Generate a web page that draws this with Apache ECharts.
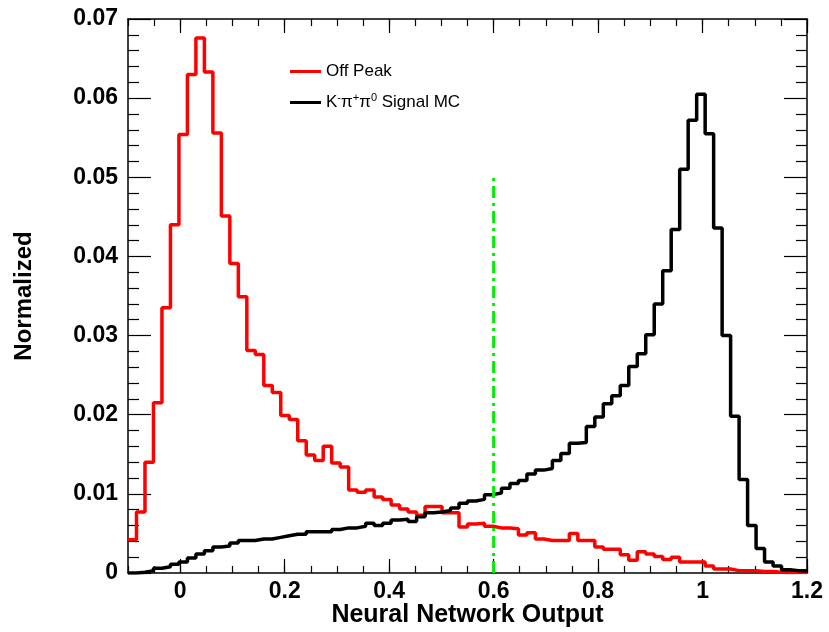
<!DOCTYPE html>
<html>
<head>
<meta charset="utf-8">
<script src="https://cdn.jsdelivr.net/npm/echarts@6/dist/echarts.min.js"></script>
<style>
  html, body { margin: 0; padding: 0; background: #fff; }
  #chart { width: 829px; height: 632px; }
</style>
</head>
<body>
<div id="chart"></div>
<script>
// Histogram binning: 80 bins from -0.1 to 1.2
const binLow = -0.1;
const binWidth = 0.01625;

// Normalized bin contents, Off Peak data
const offPeak = [
  0.0042, 0.0077, 0.0140, 0.0215, 0.0335, 0.0440, 0.0554, 0.0630, 0.0676, 0.0633,
  0.0556, 0.0451, 0.0391, 0.0349, 0.0281, 0.0276, 0.0237, 0.0228, 0.0199, 0.0194,
  0.0167, 0.0149, 0.0142, 0.0160, 0.0139, 0.0134, 0.0105, 0.0102, 0.0105, 0.0096,
  0.0093, 0.0086, 0.0081, 0.0077, 0.0073, 0.0084, 0.0084, 0.0076, 0.0076, 0.0058,
  0.0062, 0.0063, 0.0059, 0.0057, 0.0057, 0.0056, 0.0048, 0.0051, 0.0043, 0.0041,
  0.0041, 0.0041, 0.0050, 0.0041, 0.0041, 0.0033, 0.0030, 0.0030, 0.0023, 0.0016,
  0.0027, 0.0024, 0.0021, 0.0017, 0.0020, 0.0014, 0.0014, 0.0014, 0.0009, 0.0005,
  0.0005, 0.0003, 0.0003, 0.0003, 0.0002, 0.0002, 0.0001, 0.0001, 0.0001, 0.0001
];

// Normalized bin contents, K- pi+ pi0 signal Monte Carlo
const signalMC = [
  0.0000, 0.0001, 0.0003, 0.0006, 0.0008, 0.0011, 0.0014, 0.0019, 0.0024, 0.0028,
  0.0033, 0.0034, 0.0038, 0.0041, 0.0041, 0.0043, 0.0043, 0.0045, 0.0047, 0.0049,
  0.0049, 0.0052, 0.0052, 0.0052, 0.0055, 0.0057, 0.0057, 0.0059, 0.0063, 0.0060,
  0.0063, 0.0067, 0.0068, 0.0065, 0.0071, 0.0076, 0.0077, 0.0079, 0.0082, 0.0088,
  0.0091, 0.0093, 0.0099, 0.0101, 0.0107, 0.0113, 0.0117, 0.0125, 0.0130, 0.0132,
  0.0142, 0.0151, 0.0164, 0.0165, 0.0185, 0.0197, 0.0214, 0.0224, 0.0237, 0.0261,
  0.0277, 0.0301, 0.0340, 0.0382, 0.0434, 0.0510, 0.0572, 0.0605, 0.0555, 0.0436,
  0.0300, 0.0198, 0.0118, 0.0060, 0.0031, 0.0014, 0.0009, 0.0004, 0.0003, 0.0003
];

// Selection cut drawn as a vertical line
const cutValue = 0.6;
const cutTop = 0.05;

// Axis ticks
const xMajorTicks = [0, 0.2, 0.4, 0.6, 0.8, 1.0, 1.2];
const xMin = -0.1, xMax = 1.2;
const yMin = 0, yMax = 0.07, yStep = 0.01;

const seriesNames = ['Off Peak', 'Signal'];

function toSteps(values) {
  const pts = values.map((v, i) => [binLow + i * binWidth, v]);
  pts.push([binLow + values.length * binWidth, values[values.length - 1]]);
  return pts;
}

const font = '"Liberation Sans", Arial, Helvetica, sans-serif';
const axisColor = '#000';

function majorX(position, showLabels) {
  return {
    type: 'value', position: position, min: xMin, max: xMax,
    axisLine: { show: true, onZero: false, lineStyle: { color: axisColor, width: 1.5 } },
    axisTick: { show: true, inside: true, length: 14, customValues: xMajorTicks,
      lineStyle: { color: axisColor, width: 1.2 } },
    axisLabel: { show: showLabels, customValues: xMajorTicks, margin: 7,
      fontFamily: font, fontWeight: 'bold', fontSize: 23, color: '#000' },
    splitLine: { show: false },
    name: showLabels ? 'Neural Network Output' : '',
    nameLocation: 'middle', nameGap: 30, nameMoveOverlap: false,
    nameTextStyle: { fontFamily: font, fontWeight: 'bold', fontSize: 25, color: '#000' }
  };
}
function minorX(position) {
  return {
    type: 'value', position: position, min: xMin, max: xMax, interval: 0.05,
    axisLine: { show: false, onZero: false },
    axisTick: { show: true, inside: true, length: 7, lineStyle: { color: axisColor, width: 1.2 } },
    axisLabel: { show: false }, splitLine: { show: false }
  };
}
function yAxisDef(position, showLabels) {
  return {
    type: 'value', position: position, min: yMin, max: yMax, interval: yStep,
    axisLine: { show: true, onZero: false, lineStyle: { color: axisColor, width: 1.5 } },
    axisTick: { show: true, inside: true, length: 23, lineStyle: { color: axisColor, width: 1.2 } },
    minorTick: { show: true, splitNumber: 5, length: 11, lineStyle: { color: axisColor, width: 1.2 } },
    axisLabel: { show: showLabels, margin: 10, fontFamily: font, fontWeight: 'bold', fontSize: 23, color: '#000' },
    splitLine: { show: false }, minorSplitLine: { show: false },
    name: showLabels ? 'Normalized' : '',
    nameLocation: 'middle', nameRotate: 90, nameGap: 92, nameMoveOverlap: false,
    nameTextStyle: { fontFamily: font, fontWeight: 'bold', fontSize: 24, color: '#000' }
  };
}

const chart = echarts.init(document.getElementById('chart'), null, { renderer: 'canvas' });
chart.setOption({
  animation: false,
  backgroundColor: '#fff',
  grid: { left: 128, right: 22, top: 19, bottom: 59, containLabel: false, outerBoundsMode: 'none' },
  xAxis: [majorX('bottom', true), minorX('bottom'), majorX('top', false), minorX('top')],
  yAxis: [yAxisDef('left', true), yAxisDef('right', false)],
  legend: {
    orient: 'vertical', left: 290, top: 63, padding: 0, itemGap: 12,
    itemWidth: 31, itemHeight: 3, icon: 'rect',
    data: seriesNames,
    textStyle: {
      fontFamily: font, fontSize: 17, color: '#000',
      rich: {
        b: { fontFamily: font, fontSize: 17, color: '#000' },
        sup: { fontFamily: font, fontSize: 11, color: '#000', padding: [0, 0, 10, 0] }
      }
    },
    formatter: function (name) {
      if (name === 'Signal') return '{b|K}{sup|-}{b|\u03c0}{sup|+}{b|\u03c0}{sup|0}{b| Signal MC}';
      return name;
    }
  },
  series: [
    {
      name: seriesNames[0], type: 'line', step: 'end', xAxisIndex: 0, yAxisIndex: 0,
      data: toSteps(offPeak), showSymbol: false, symbol: 'none',
      lineStyle: { color: '#ff0000', width: 3.5 }, itemStyle: { color: '#ff0000' }, z: 3
    },
    {
      name: seriesNames[1], type: 'line', step: 'end', xAxisIndex: 0, yAxisIndex: 0,
      data: toSteps(signalMC), showSymbol: false, symbol: 'none',
      lineStyle: { color: '#000000', width: 3.5 }, itemStyle: { color: '#000000' }, z: 4
    },
    {
      name: 'cut', type: 'line', xAxisIndex: 0, yAxisIndex: 0,
      data: [[cutValue, yMin], [cutValue, cutTop]], showSymbol: false, symbol: 'none',
      lineStyle: { color: '#00ee00', width: 3, type: [12, 5, 3, 5] }, z: 5
    }
  ]
});
</script>
</body>
</html>
